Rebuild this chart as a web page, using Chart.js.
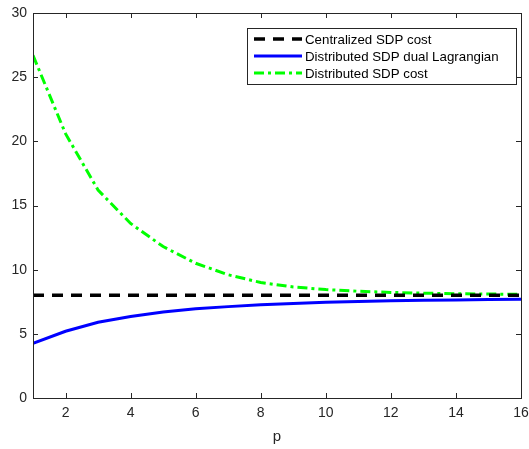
<!DOCTYPE html>
<html><head><meta charset="utf-8">
<script src="https://cdn.jsdelivr.net/npm/chart.js@4/dist/chart.umd.min.js"></script>
<style>html,body{margin:0;padding:0;background:#fff}#wrap{width:529px;height:449px}</style>
</head><body><div id="wrap"><canvas id="c" width="529" height="449"></canvas></div>
<script>
const pValues = [1,2,3,4,5,6,7,8,9,10,11,12,13,14,15,16];
const centralizedCost = [8,8,8,8,8,8,8,8,8,8,8,8,8,8,8,8];
const dualLagrangian = [4.25,5.2,5.9,6.35,6.7,6.95,7.12,7.26,7.37,7.46,7.52,7.57,7.61,7.64,7.67,7.7];
const distributedCost = [26.7,20.6,16.2,13.6,11.8,10.5,9.6,9.0,8.65,8.45,8.32,8.23,8.17,8.12,8.1,8.08];
const xTicks = [2,4,6,8,10,12,14,16];
const yTicks = [0,5,10,15,20,25,30];
const seriesNames = ['Centralized SDP cost','Distributed SDP dual Lagrangian','Distributed SDP cost'];
const xTitle = 'p';

const FONT = '"Liberation Sans", Arial, sans-serif';
const TXT = '#262626';

const framePlugin = {
  id: 'frame',
  afterDatasetsDraw(chart) {
    const ctx = chart.ctx, a = chart.chartArea;
    const xs = chart.scales.x, ys = chart.scales.y;
    ctx.save();
    ctx.strokeStyle = '#262626';
    ctx.lineWidth = 1;
    ctx.setLineDash([]);
    ctx.strokeRect(Math.round(a.left)+0.5, Math.round(a.top)+0.5, Math.round(a.right-a.left), Math.round(a.bottom-a.top));
    const tl = 5;
    ctx.beginPath();
    xTicks.forEach(v => {
      const x = Math.round(xs.getPixelForValue(v))+0.5;
      ctx.moveTo(x, a.bottom); ctx.lineTo(x, a.bottom - tl);
      ctx.moveTo(x, a.top); ctx.lineTo(x, a.top + tl);
    });
    yTicks.forEach(v => {
      const y = Math.round(ys.getPixelForValue(v))+0.5;
      ctx.moveTo(a.left, y); ctx.lineTo(a.left + tl, y);
      ctx.moveTo(a.right, y); ctx.lineTo(a.right - tl, y);
    });
    ctx.stroke();
    ctx.fillStyle = TXT;
    ctx.font = '14px ' + FONT;
    ctx.textAlign = 'center'; ctx.textBaseline = 'top';
    xTicks.forEach(v => ctx.fillText(String(v), xs.getPixelForValue(v), a.bottom + 8));
    ctx.textAlign = 'right'; ctx.textBaseline = 'middle';
    yTicks.forEach(v => ctx.fillText(String(v), a.left - 6, ys.getPixelForValue(v)));
    ctx.textAlign = 'center'; ctx.textBaseline = 'middle';
    ctx.font = '15px ' + FONT;
    ctx.fillText(xTitle, (a.left + a.right)/2, 437);
    const lx = 247, ly = 28, lw = 269, lh = 56;
    ctx.fillStyle = '#fff';
    ctx.fillRect(lx, ly, lw, lh);
    ctx.strokeStyle = '#262626'; ctx.lineWidth = 1;
    ctx.strokeRect(lx+0.5, ly+0.5, lw, lh);
    chart.data.datasets.forEach((ds, i) => {
      const y = ly + 11 + i*17;
      ctx.beginPath();
      ctx.strokeStyle = ds.borderColor; ctx.lineWidth = ds.borderWidth;
      ctx.setLineDash(ds.borderDash || []);
      ctx.moveTo(lx + 7, y); ctx.lineTo(lx + 55, y);
      ctx.stroke();
      ctx.setLineDash([]);
      ctx.fillStyle = '#000';
      ctx.font = '13.3px ' + FONT;
      ctx.textAlign = 'left'; ctx.textBaseline = 'middle';
      ctx.fillText(ds.label, lx + 58, y + 1);
    });
    ctx.restore();
  }
};

new Chart(document.getElementById('c'), {
  type: 'line',
  data: {
    datasets: [
      {label: seriesNames[0], data: pValues.map((p,i)=>({x:p,y:centralizedCost[i]})), borderColor:'#000000', borderWidth:3.5, borderDash:[11,8], pointRadius:0, fill:false},
      {label: seriesNames[1], data: pValues.map((p,i)=>({x:p,y:dualLagrangian[i]})), borderColor:'#0000ff', borderWidth:3, pointRadius:0, fill:false},
      {label: seriesNames[2], data: pValues.map((p,i)=>({x:p,y:distributedCost[i]})), borderColor:'#00ff00', borderWidth:3, borderDash:[10,4,3,4], pointRadius:0, fill:false}
    ]
  },
  options: {
    responsive: false,
    animation: false,
    layout: {padding: {top: 13, right: 8, left: 0, bottom: 0}},
    plugins: {legend: {display: false}, tooltip: {enabled: false}},
    scales: {
      x: {type:'linear', min:1, max:16, grid:{display:false}, border:{display:false},
          ticks:{display:false}, afterFit(s){ s.height = 51; }},
      y: {type:'linear', min:0, max:30, grid:{display:false}, border:{display:false},
          ticks:{display:false}, afterFit(s){ s.width = 33; }}
    }
  },
  plugins: [framePlugin]
});
</script></body></html>
